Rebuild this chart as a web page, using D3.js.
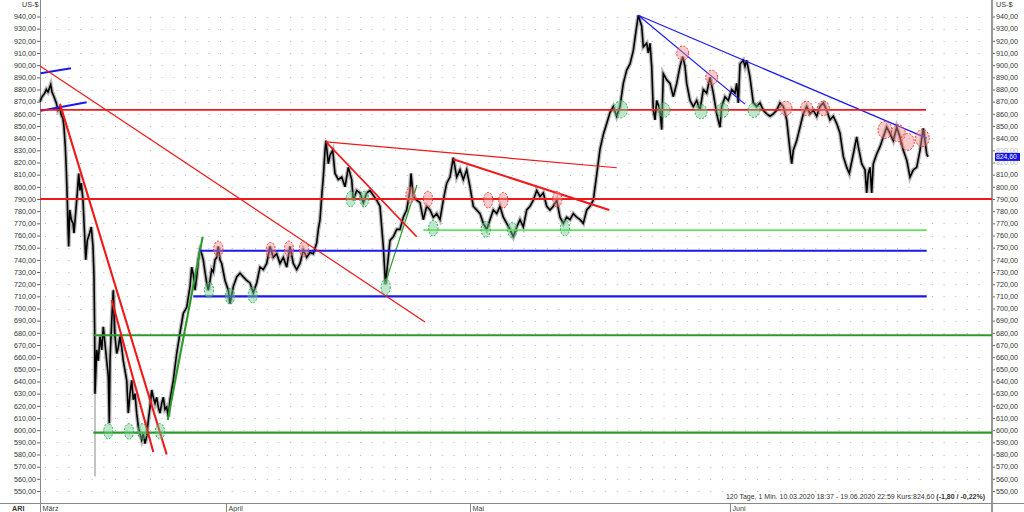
<!DOCTYPE html>
<html><head><meta charset="utf-8">
<script src="https://cdn.jsdelivr.net/npm/d3@7"></script>
<style>
body{margin:0;background:#fff}
svg{display:block}
text{font-family:"Liberation Sans",Arial,sans-serif}
</style>
</head><body>
<svg id="c" width="1024" height="512"></svg>
<script>
// ---------- DATA ----------
const priceTicks = d3.range(550, 941, 10);
const months = [
  {label: "März", t: 0},
  {label: "April", t: 186},
  {label: "Mai", t: 430},
  {label: "Juni", t: 690}
];
const lastPrice = 824.6;
const footerText = "120 Tage, 1 Min. 10.03.2020 18:37 - 19.06.2020 22:59 Kurs:824,60 ";
const footerBold = "(-1,80 / -0,22%)";

// price path [position, price]
const priceSeries = [
[0,870],[2,874],[4.7,877],[6.3,880],[8,878],[10.7,884],[12,878],[14,874],[16.3,869],[18,863],[19.7,865],[21.3,859],[23,856],[24,849],[25.3,833],[26.3,814],[27.3,789],[28,767],[28.7,751],[29.7,781],[31.3,773],[33,770],[34,762],[35.3,775],[37.3,795],[38.7,811],[40,797],[41.3,803],[43,789],[44.7,759],[45.7,740],[47.3,756],[49.7,762],[51.3,767],[53,751],[54,726],[54.7,680],[55,630],[55.5,640],[56.7,666],[58.3,657],[60,677],[61.7,666],[63.3,685],[65,671],[66.7,657],[68.3,644],[69.3,606],[70,657],[71.7,690],[73.3,715],[75,677],[76.7,663],[78.3,668],[80,677],[81.7,668],[83.3,657],[86.7,641],[88.3,614],[90,630],[91.7,641],[93.3,625],[95,630],[96.7,614],[98.3,603],[100,597],[101.7,592],[103.3,597],[105,589],[106.7,595],[108.3,608],[110,619],[111.7,633],[113.3,627],[115,622],[116.7,627],[118.3,619],[120,614],[121.7,622],[123.3,627],[125,617],[126.7,619],[128.3,611],[130,625],[133.3,641],[136.7,663],[140,680],[143.3,696],[146.7,701],[150,718],[151.7,734],[153.3,728],[155,715],[156.7,726],[158.3,740],[160,748],[161.7,745],[163.3,740],[165,730],[166.7,721],[168.3,715],[170,723],[171.7,732],[173.3,730],[175,740],[176.7,742],[178.3,751],[180,740],[181.7,737],[185,723],[188.3,715],[190,704],[193.3,718],[196.7,726],[200,729],[203.3,726],[206.7,723],[210,721],[213.3,713],[216.7,721],[220,734],[223.3,732],[226.7,737],[230,751],[233.3,742],[236.7,745],[240,737],[243.3,742],[246.7,734],[250,751],[253.3,737],[256.7,732],[260,737],[263.3,748],[266.7,742],[270,746],[273.3,745],[276.7,754],[278.3,765],[280,773],[281.7,792],[283.3,808],[285,830],[286,838],[288.3,819],[290,826],[292.7,830],[295,811],[298.3,806],[301.7,808],[305,800],[308.3,816],[311.7,806],[313.3,789],[316.7,797],[320,795],[323.3,787],[326.7,795],[330,797],[333.3,793],[336.7,789],[340,784],[341.7,767],[343.3,751],[345.5,720],[348.3,742],[350,756],[353.3,759],[356.7,765],[360,765],[363.3,775],[366.7,781],[370,797],[371,811],[373.3,792],[376.7,789],[380,787],[383.3,773],[386.7,784],[390,781],[393.3,775],[396.7,778],[400,773],[403.3,789],[406.7,803],[410,808],[413.3,824],[416.7,808],[420,814],[423.3,806],[426.7,814],[430,800],[433.3,784],[436.7,781],[440,778],[443.3,770],[446.7,765],[450,773],[453.3,781],[456.7,778],[460,784],[463.3,775],[466.7,770],[470,765],[473.3,759],[476.7,767],[480,773],[483.3,767],[486.7,781],[490,784],[493.3,789],[496.7,797],[500,792],[503.3,795],[506.7,784],[510,781],[513.3,784],[516.7,789],[520,775],[523.3,770],[526.7,775],[530,773],[533.3,778],[536.7,775],[540,773],[543.3,770],[546.7,781],[550,784],[553.3,789],[556.7,810],[560,831],[563.3,843],[566.7,852],[570,861],[573.3,866],[576.7,858],[580,866],[583.3,885],[586.7,896],[590,901],[593.3,912],[596.7,932],[598.3,941],[601.7,932],[603.3,915],[606.7,918],[608.3,910],[610,918],[611.7,899],[613.3,863],[615,855],[616.7,871],[620,863],[621.7,847],[623.3,893],[626.7,888],[630,885],[633.3,874],[636.7,885],[640,899],[642.7,907],[645,899],[646.7,885],[650,871],[653.3,866],[656.7,871],[660,863],[663.3,880],[666.7,877],[670,890],[673.3,877],[676.7,860],[680,849],[681.7,866],[685,874],[688.3,871],[691.7,880],[695,877],[696.7,885],[698.3,869],[700,901],[703.3,904],[705,899],[706.7,904],[710,890],[713.3,869],[716.7,866],[720,869],[723.3,863],[726.7,860],[730,858],[733.3,860],[736.7,863],[740,869],[743.3,866],[746.7,855],[750,830],[751.7,819],[753.3,830],[756.7,838],[760,849],[763.3,860],[766.7,866],[770,860],[773.3,863],[776.7,858],[780,866],[783.3,869],[786.7,863],[790,855],[793.3,858],[796.7,852],[800,844],[803.3,825],[806.7,816],[809.3,811],[813.3,827],[816.7,841],[818.3,833],[821.7,819],[825,814],[826.7,795],[828.3,811],[830,816],[831.7,795],[833.3,819],[836.7,827],[840,833],[843.3,841],[846.7,849],[850,844],[853.3,838],[856.7,849],[860,841],[863.3,830],[866.7,822],[870,808],[873.3,814],[876.7,816],[880,830],[883.3,848],[885,838],[886.7,827],[888,824.6]
];
// thin wick spikes [position, low, high]
const spikes = [[55, 562, 640], [69.3, 604, 650], [73.3, 680, 716]];

// trend / support lines [pos1, price1, pos2, price2, weight]
const redLines = [
  [0, 899.3, 385, 689, "thin"],
  [0, 863.2, 886, 863.2, "mid"],
  [0, 790, 952, 790, "thick"],
  [20, 868, 126.7, 580, "thick"],
  [71.7, 707, 113.3, 582, "thick"],
  [286, 837, 376.7, 759, "mid"],
  [286, 837, 576.7, 815.7, "thin"],
  [413.3, 822.6, 569.3, 781, "thick"]
];
const blueLines = [
  [0.7, 893.3, 31, 897.4, "thick"],
  [0.7, 862.6, 46.7, 869.5, "thick"],
  [160, 747.5, 886.7, 747.5, "thick"],
  [153.3, 710, 886.7, 710, "thick"],
  [598.3, 941, 886.7, 840, "thin"],
  [598.3, 941, 705, 868, "thin"]
];
const greenLines = [
  [127.7, 608.4, 162.7, 759, "thick"],
  [53.3, 678, 952, 678, "thick"],
  [53.3, 598, 952, 598, "thick"],
  [345, 720, 377, 801.5, "thin"]
];
const limeLines = [
  [383.3, 764.5, 886.7, 764.5, "mid"]
];
// turning-point markers [position, price, kind, sizeClass]
const markers = [
 [68.3,599.3,"g","s"],[89,599,"g","s"],[102.3,599,"g","s"],[120,599,"g","s"],
 [178.3,749,"r","s"],[169,715,"g","s"],[190,710,"g","s"],[212.7,711,"g","s"],
 [230.7,748,"r","s"],[249,749,"r","s"],[264,749,"r","s"],
 [310.7,790,"g","s"],[324.3,790,"g","s"],[345.7,717.7,"g","s"],
 [370.5,793.3,"r","s"],[388,790,"r","s"],[393.3,766,"g","s"],
 [448.3,789,"r","s"],[463.3,789,"r","s"],[445.7,765,"g","s"],[472.3,764.5,"g","s"],
 [517.3,789.8,"r","s"],[525,766,"g","s"],
 [580.7,863.7,"g","l"],[642.7,909.8,"r","m"],[671.7,890,"r","m"],
 [624,863,"g","m"],[661,861.8,"g","m"],[682.7,863,"g","m"],[714,863,"g","m"],
 [746,864.5,"r","m"],[766.7,864.5,"r","m"],[783.3,864.5,"r","m"],
 [845,846.7,"r","l"],[858.3,844,"r","l"],[867.3,837,"r","l"],[882.3,840,"r","l"]
];

// ---------- LAYOUT ----------
const W = 1024, H = 512;
const left = 40, right = 992, axisBottom = 503;
const x = d3.scaleLinear().domain([0, 952]).range([left, right]);
const y = d3.scaleLinear().domain([550, 940]).range([491, 16.5]);
const loc = d3.formatLocale({decimal: ",", thousands: ".", grouping: [3], currency: ["", ""]});
const fmt = loc.format(".2f");
const weight = {thin: 1.2, mid: 1.7, thick: 2.1};
const msize = {s: [4.6, 7.8], m: [6, 7.2], l: [7, 8.5]};

const svg = d3.select("#c");
svg.append("rect").attr("width", W).attr("height", H).attr("fill", "#fff");

// dotted grid
svg.append("g").selectAll("line").data(priceTicks).join("line")
  .attr("x1", left + 5).attr("x2", right - 2)
  .attr("y1", d => Math.round(y(d)) + 0.5).attr("y2", d => Math.round(y(d)) + 0.5)
  .attr("stroke", "#b4b4b4").attr("stroke-width", 1)
  .attr("stroke-dasharray", "1,10.67");

// axes
const yl = svg.append("g").attr("transform", `translate(${left},0)`)
  .call(d3.axisLeft(y).tickValues(priceTicks).tickFormat(fmt).tickSize(3).tickPadding(1));
const yr = svg.append("g").attr("transform", `translate(${right},0)`)
  .call(d3.axisRight(y).tickValues(priceTicks).tickFormat(fmt).tickSize(3).tickPadding(1));
[yl, yr].forEach(g => {
  g.select(".domain").remove();
  g.selectAll(".tick line").attr("stroke", "#666");
  g.selectAll(".tick text").attr("fill", "#333").attr("font-size", 7.2)
    .attr("font-family", "Liberation Sans, Arial, sans-serif");
});
// the last-price badge covers the nearby right-hand labels
yr.selectAll(".tick").filter(d => Math.abs(d - lastPrice) < 6).select("text").attr("opacity", 0.35);
svg.append("line").attr("x1", left + 0.5).attr("x2", left + 0.5).attr("y1", 0).attr("y2", H)
  .attr("stroke", "#888");
svg.append("line").attr("x1", right).attr("x2", right).attr("y1", 0).attr("y2", H)
  .attr("stroke", "#999").attr("stroke-width", 2);
svg.append("line").attr("x1", 0).attr("x2", W).attr("y1", axisBottom + 0.5).attr("y2", axisBottom + 0.5)
  .attr("stroke", "#888");

// month ticks
const mg = svg.append("g").selectAll("g").data(months).join("g")
  .attr("transform", d => `translate(${Math.round(x(d.t)) + 0.5},0)`);
mg.append("line").attr("y1", axisBottom).attr("y2", H).attr("stroke", "#888");
mg.append("text").attr("x", 2).attr("y", 511).attr("font-size", 7.2).attr("fill", "#444")
  .text(d => d.label);

svg.append("text").attr("x", 12).attr("y", 511).attr("font-size", 7.2).attr("font-weight", "bold")
  .attr("fill", "#333").text("ARI");
svg.append("text").attr("x", 22).attr("y", 7).attr("font-size", 7.2).attr("fill", "#333").text("US-$");
svg.append("text").attr("x", 996).attr("y", 7).attr("font-size", 7.2).attr("fill", "#333").text("US-$");

// footer
const ft = svg.append("text").attr("x", 985).attr("y", 499).attr("text-anchor", "end")
  .attr("font-size", 7).attr("fill", "#333");
ft.append("tspan").text(footerText);
ft.append("tspan").attr("font-weight", "bold").text(footerBold);

// price line
const line = d3.line().x(d => x(d[0])).y(d => y(d[1]));
svg.append("g").selectAll("line").data(spikes).join("line")
  .attr("x1", d => x(d[0])).attr("x2", d => x(d[0]))
  .attr("y1", d => y(d[1])).attr("y2", d => y(d[2]))
  .attr("stroke", "#888").attr("stroke-width", 1);
svg.append("path").datum(priceSeries).attr("d", line).attr("fill", "none")
  .attr("stroke", "#666").attr("stroke-width", 4.2).attr("stroke-opacity", 0.45)
  .attr("stroke-linejoin", "miter");
svg.append("path").datum(priceSeries).attr("d", line).attr("fill", "none")
  .attr("stroke", "#000").attr("stroke-width", 1.6).attr("stroke-linejoin", "miter");

// trend lines
function drawLines(data, color) {
  svg.append("g").selectAll("line").data(data).join("line")
    .attr("x1", d => x(d[0])).attr("y1", d => y(d[1]))
    .attr("x2", d => x(d[2])).attr("y2", d => y(d[3]))
    .attr("stroke", color).attr("stroke-width", d => weight[d[4]]);
}
drawLines(greenLines, "#2a9a2a");
drawLines(limeLines, "#5ee65a");
drawLines(blueLines, "#1a1aee");
drawLines(redLines, "#f01818");

// markers
svg.append("g").selectAll("ellipse").data(markers).join("ellipse")
  .attr("cx", d => x(d[0])).attr("cy", d => y(d[1]))
  .attr("rx", d => msize[d[3]][0]).attr("ry", d => msize[d[3]][1])
  .attr("fill", d => d[2] === "r" ? "rgba(240,140,140,0.45)" : "rgba(110,205,140,0.45)")
  .attr("stroke", d => d[2] === "r" ? "#ee3333" : "#33aa55")
  .attr("stroke-width", 1).attr("stroke-dasharray", "2,1.5");

// last price box
const ly = y(lastPrice);
svg.append("rect").attr("x", 995).attr("y", ly - 4).attr("width", 25).attr("height", 8)
  .attr("fill", "#1414e6");
svg.append("text").attr("x", 996).attr("y", ly + 2.5).attr("font-size", 6.8).attr("fill", "#fff")
  .text(fmt(lastPrice));
</script>
</body></html>
